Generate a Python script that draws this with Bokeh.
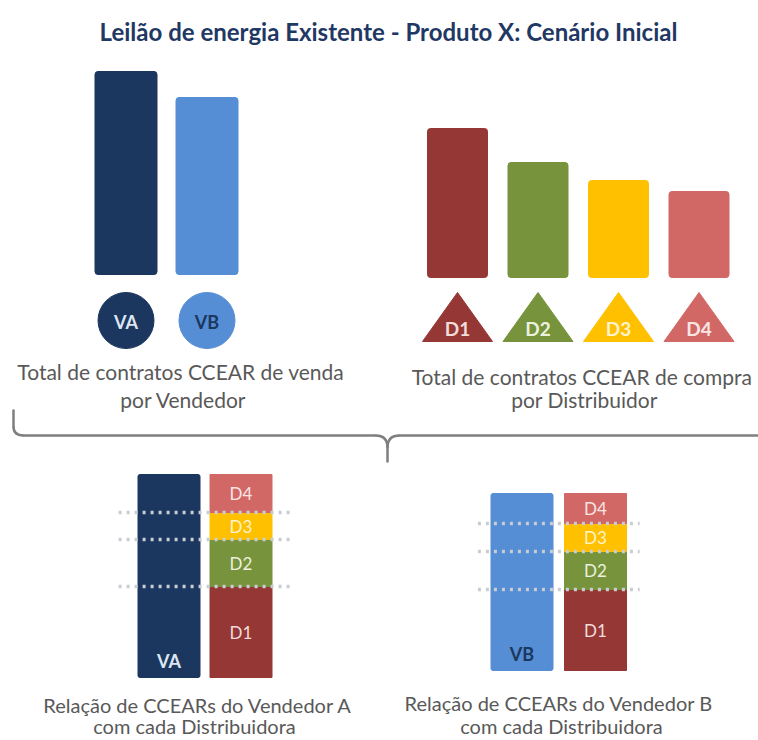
import numpy as np
from bokeh.plotting import figure
from bokeh.models import Range1d, ColumnDataSource
from bokeh.core.properties import value
from bokeh.embed import file_html
from bokeh.resources import INLINE

# ---------------- data ----------------
vendedores = ["VA", "VB"]
venda_total = [203, 177]
distribuidores = ["D1", "D2", "D3", "D4"]
compra_total = [149, 115, 97, 86]
va_por_dist = [91, 47, 27, 38]
vb_por_dist = [81, 38, 28, 30]

titulo = "Leilão de energia Existente - Produto X: Cenário Inicial"
txt_venda = ["Total de  contratos CCEAR de venda", "por Vendedor"]
txt_compra = ["Total de  contratos CCEAR de compra", "por Distribuidor"]
txt_rel_a = ["Relação de CCEARs  do Vendedor A", "com cada Distribuidora"]
txt_rel_b = ["Relação de CCEARs  do Vendedor B", "com cada Distribuidora"]

# ---------------- styles ----------------
cor_vend = ["#1C375F", "#558ED5"]
cor_vend_txt = ["#DCE6F2", "#1C375F"]
cor_dist = ["#953735", "#77933C", "#FFC000", "#D26866"]
cor_dist_txt = ["#F2DCDB", "#EBF1DE", "#FFF2CC", "#F9E5E4"]
cinza = "#595959"
FONT = value("Lato")
CAP = "21px"

W, H = 758, 740
p = figure(width=W, height=H, x_range=Range1d(0, W), y_range=Range1d(H, 0),
           output_backend="svg", toolbar_location=None, min_border=0,
           x_axis_location=None, y_axis_location=None, outline_line_color=None,
           background_fill_color="white", border_fill_color="white")
p.grid.visible = False


def panel(name, c0, dx, base, k=1.0):
    a = -c0 / dx
    p.extra_x_ranges[name] = Range1d(a, a + W / dx)
    end = base / k
    p.extra_y_ranges[name] = Range1d(end - H / k, end)
    return dx


# ---- title ----
p.text(x=[388], y=[31], text=[titulo], text_font=FONT, text_font_size="24px",
       text_font_style="bold", text_color="#1F3864", text_align="center",
       text_baseline="middle")

# ---- top-left: total per vendor ----
dx = panel("tl", 125.5, 81, 274)
iv = list(range(len(vendedores)))
p.vbar(x=iv, top=venda_total, bottom=0, width=62 / dx, color=cor_vend,
       x_range_name="tl", y_range_name="tl", border_radius=3)
p.scatter(x=iv, y=[320] * len(iv), size=56, color=cor_vend, x_range_name="tl")
p.text(x=iv, y=[321] * len(iv), text=vendedores, text_color=cor_vend_txt,
       text_font=FONT, text_font_size="18px", text_font_style="bold",
       text_align="center", text_baseline="middle", x_range_name="tl")

# ---- top-right: total per distributor ----
dx = panel("tr", 457, 80.5, 277)
idd = list(range(len(distribuidores)))
p.vbar(x=idd, top=compra_total, bottom=0, width=60 / dx, color=cor_dist,
       x_range_name="tr", y_range_name="tr", border_radius=3)
hw = 35 / dx
p.patches(xs=[[i - hw, i + hw, i] for i in idd], ys=[[341, 341, 292]] * len(idd),
          color=cor_dist, x_range_name="tr")
p.text(x=idd, y=[328] * len(idd), text=distribuidores, text_color=cor_dist_txt,
       text_font=FONT, text_font_size="19px", text_font_style="bold",
       text_align="center", text_baseline="middle", x_range_name="tr")

# ---- captions top ----
p.text(x=[183, 183], y=[371, 399], text=txt_venda, text_color=cinza, text_font=FONT,
       text_font_size=CAP, text_align="center", text_baseline="middle")
p.text(x=[584, 584], y=[376, 399], text=txt_compra, text_color=cinza, text_font=FONT,
       text_font_size=CAP, text_align="center", text_baseline="middle")

# ---- brace ----
bc = "#7F7F7F"
p.segment(x0=[13, 23, 399, 387], y0=[410, 435, 435, 447],
          x1=[13, 375, 758, 387], y1=[426, 435, 435, 461],
          line_color=bc, line_width=2.5, line_cap="round")
p.quadratic(x0=[13, 375, 399], y0=[426, 435, 435], x1=[23, 387, 387], y1=[435, 447, 447],
            cx=[13, 387, 387], cy=[435, 435, 435], line_color=bc, line_width=2.5)


# ---- bottom stacked panels ----
def stacked(name, c0, dx, base, vend_idx, partes, ext0, ext1, lab_y):
    panel(name, c0, dx, base)
    partes = np.array(partes, dtype=float)
    topo = np.cumsum(partes)
    fundo = topo - partes
    # vendor column
    p.vbar(x=[0], top=[topo[-1]], bottom=0, width=62 / dx, color=cor_vend[vend_idx],
           x_range_name=name, y_range_name=name, border_radius=2)
    # distributor shares
    src = ColumnDataSource(dict(x=[1] * len(partes), top=topo, bottom=fundo,
                                color=cor_dist, lab=distribuidores,
                                mid=(topo + fundo) / 2, tc=cor_dist_txt))
    p.vbar(x="x", top="top", bottom="bottom", width=62 / dx, color="color",
           source=src, x_range_name=name, y_range_name=name)
    p.text(x="x", y="mid", text="lab", text_color="tc", source=src, text_font=FONT,
           text_font_size="17px", text_align="center", text_baseline="middle",
           x_range_name=name, y_range_name=name)
    p.text(x=[0], y=[lab_y], text=[vendedores[vend_idx]], text_color=cor_vend_txt[vend_idx],
           text_font=FONT, text_font_size="18px", text_font_style="bold",
           text_align="center", text_baseline="middle", x_range_name=name, y_range_name=name)
    # dotted separators
    lim = topo[:-1]
    p.segment(x0=[ext0] * len(lim), x1=[ext1] * len(lim), y0=lim, y1=lim,
              line_color="#C9CCD2", line_width=3.5, line_dash="3 5",
              x_range_name=name, y_range_name=name)


stacked("bl", 168.5, 72, 677, 0, va_por_dist, -0.7, 1.72, 17)
stacked("br", 521.5, 73.5, 670, 1, vb_por_dist, -0.6, 1.6, 17)

# ---- captions bottom ----
p.text(x=[200, 194], y=[704, 725], text=txt_rel_a, text_color=cinza, text_font=FONT,
       text_font_size="20px", text_align="center", text_baseline="middle")
p.text(x=[561, 561], y=[702, 725], text=txt_rel_b, text_color=cinza, text_font=FONT,
       text_font_size="20px", text_align="center", text_baseline="middle")

open("out.html", "w").write(file_html(p, INLINE))
